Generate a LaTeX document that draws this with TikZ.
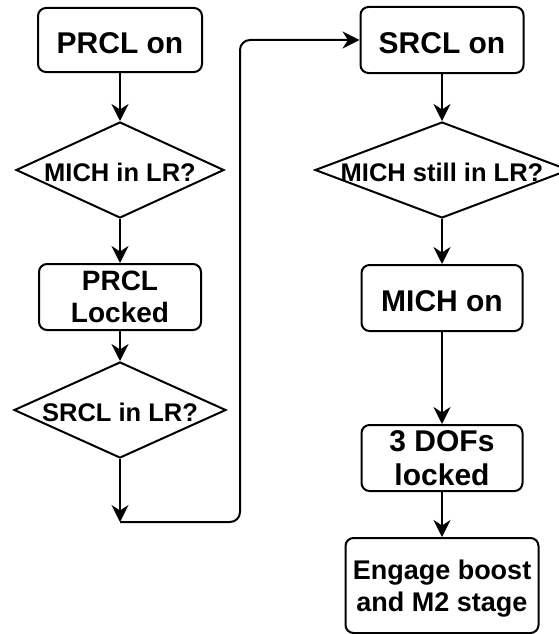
\documentclass[tikz,border=0pt]{standalone}
\usepackage{fontspec}
\setmainfont{Liberation Sans}
\usetikzlibrary{arrows.meta,shapes.geometric}

\tikzset{
  stepbox/.style={draw, line width=2pt, rounded corners=8pt, inner sep=0pt,
    align=center, font=\bfseries\fontsize{30}{34}\selectfont},
  oneline/.style={text height=27.5pt, text depth=0pt},
  decision/.style={diamond, draw, line width=2pt, inner sep=0pt,
    font=\bfseries\fontsize{25.5}{30}\selectfont, text height=22pt, text depth=0pt},
  conn/.style={line width=2pt, -{Stealth[length=17pt, width=17pt, inset=5.5pt]}},
  plain/.style={line width=2pt}
}

\begin{document}
\begin{tikzpicture}[x=1pt, y=-1pt]
  \useasboundingbox (0,0) rectangle (558,634);
  \fill[white] (0,0) rectangle (558,634);

  % left column
  \node[stepbox, oneline, minimum width=164pt, minimum height=64pt] (prclon) at (120,40) {PRCL on};
  \node[decision, minimum width=208pt, minimum height=96pt] (michlr) at (120,170) {\makebox[0pt]{MICH in LR?}};
  \node[stepbox, minimum width=162pt, minimum height=66pt, font=\bfseries\fontsize{28}{32}\selectfont] (prcllock) at (120,297) {PRCL\\Locked};
  \node[decision, minimum width=212pt, minimum height=96pt] (srcllr) at (120,410) {\makebox[0pt]{SRCL in LR?}};
  \coordinate (join) at (120,522);
  \coordinate (bend) at (240,522);

  % right column
  \node[stepbox, oneline, minimum width=163pt, minimum height=66pt] (srclon) at (442,40) {SRCL on};
  \node[decision, minimum width=254pt, minimum height=96pt] (michstill) at (442,170) {\makebox[0pt]{MICH still in LR?}};
  \node[stepbox, oneline, minimum width=161pt, minimum height=66pt] (michon) at (442,298) {MICH on};
  \node[stepbox, minimum width=161pt, minimum height=66pt, text depth=-4pt] (dofs) at (442,458) {3 DOFs\\locked};
  \node[stepbox, minimum width=193pt, minimum height=95pt, font=\bfseries\fontsize{27}{32}\selectfont, text depth=-2pt] (boost) at (442,585.5) {Engage boost\\and M2 stage};

  % connectors
  \draw[conn] (prclon) -- (michlr);
  \draw[conn] (michlr) -- (prcllock);
  \draw[conn] (prcllock) -- (srcllr);
  \draw[conn] (srcllr) -- (join);
  \draw[conn, rounded corners=10pt] (join) -- (bend) |- (srclon.west);
  \draw[conn] (srclon) -- (michstill);
  \draw[conn] (michstill) -- (michon);
  \draw[conn] (michon) -- (dofs);
  \draw[conn] (dofs) -- (boost);
\end{tikzpicture}
\end{document}
